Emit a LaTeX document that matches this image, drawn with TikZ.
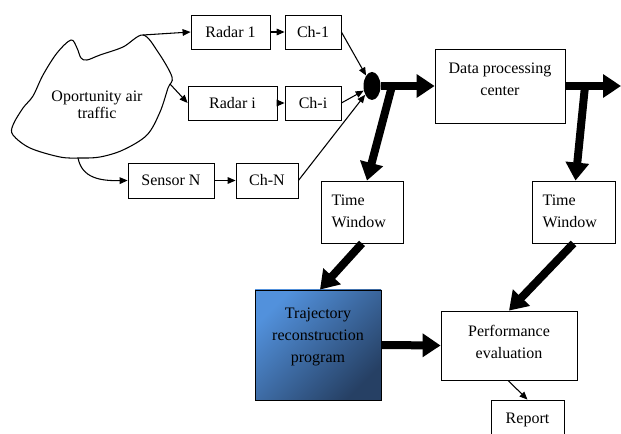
\documentclass[tikz,border=0pt]{standalone}
\usepackage{fontspec}
\setmainfont{Liberation Serif}
\usetikzlibrary{positioning,arrows.meta,shapes.geometric}
\definecolor{trajlight}{RGB}{82,145,220}
\definecolor{trajdark}{RGB}{38,64,100}

\begin{document}
\begin{tikzpicture}[x=0.75pt,y=-0.75pt,
font=\fontsize{12}{16.5}\selectfont,
box/.style={draw,rectangle,inner sep=0pt,line width=0.6pt},
lbl/.style={anchor=north,align=center,inner sep=0pt,yshift=-10.5pt},
lblleft/.style={anchor=north west,align=left,inner sep=0pt,xshift=8pt,yshift=-10.5pt},
link/.style={-{Triangle[length=6pt,width=5pt]},line width=0.8pt},
bigflow/.style={-{Triangle[length=13.5pt,width=17pt]},line width=6pt}]
\useasboundingbox (0,0) rectangle (621,434);

% air traffic cloud
\draw[line width=0.8pt] plot[smooth cycle,tension=0.55] coordinates {
(71,40) (77,48) (81,58) (87,60) (100,55) (123,47) (143,35) (158,52) (172,77) (168,88)
(160,112) (147,135) (123,150) (100,157) (80,158) (60,157) (30,148)
(13,135) (13,125) (23,108) (33,96) (43,75) (57,53)};
\node (traffic) [font=\fontsize{12}{13}\selectfont,align=center] at (97,105) {Oportunity air\\traffic};
\coordinate (cloudne) at (143,35);
\coordinate (cloude) at (170,84);
\coordinate (clouds) at (78,158);

% sensors and channels
\node (radar1) [box,minimum width=59.25pt,minimum height=25.5pt] at (230.5,32) {Radar 1};
\node (ch1) [box,minimum width=42pt,minimum height=25.5pt] at (313,32) {Ch-1};
\node (radari) [box,minimum width=66.75pt,minimum height=25.5pt] at (232.5,103) {Radar i};
\node (chi) [box,minimum width=42pt,minimum height=25.5pt] at (313,103) {Ch-i};
\node (sensorN) [box,minimum width=64.5pt,minimum height=26.25pt] at (171,180.5) {Sensor N};
\node (chN) [box,minimum width=46.5pt,minimum height=26.25pt] at (267,180.5) {Ch-N};
\node (dot) [ellipse,fill=black,inner sep=0pt,minimum width=12.75pt,minimum height=21pt] at (372,86) {};

% processing
\node (dpc) [box,minimum width=97.5pt,minimum height=55.5pt,
    label={[lbl]north:{Data processing\\center}}] at (500,86) {};
\node (tw1) [box,minimum width=61.5pt,minimum height=46.5pt,
    label={[lblleft]north west:{Time\\Window}}] at (362,212) {};
\node (tw2) [box,minimum width=62.25pt,minimum height=46.5pt,
    label={[lblleft]north west:{Time\\Window}}] at (573.5,212) {};
\node (traj) [box,top color=trajlight,bottom color=trajdark,shading angle=45,
    minimum width=94.5pt,minimum height=82.5pt,
    label={[lbl,yshift=-3pt]north:{Trajectory\\reconstruction\\program}}] at (318,345) {};
\node (pe) [box,minimum width=102pt,minimum height=51.75pt,
    label={[lbl]north:{Performance\\evaluation}}] at (509,345.5) {};
\node (report) [box,minimum width=54.75pt,minimum height=30pt] at (527.5,420) {Report};

\coordinate (split1) at (392,86);
\coordinate (split2) at (585,86);
\coordinate (exit) at (621,86);

% thin connectors
\draw[link] (cloudne) -- (radar1.west);
\draw[link] (cloude) -- (radari.west);
\draw[link] (clouds) .. controls (82,178) and (100,181) .. (sensorN.west);
\draw[link] (radar1) -- (ch1);
\draw[link] (radari) -- (chi);
\draw[link] (sensorN) -- (chN);
\draw[link] (ch1.east) -- (dot);
\draw[link] (chi.east) -- (dot);
\draw[link] (chN.east) -- (dot);
\draw[link] ([xshift=-0.75pt]pe.south) -- (report.north);

% data flow
\draw[bigflow] (dot) -- (dpc.west);
\draw[bigflow] (dpc.east) -- (exit);
\draw[bigflow] (split1) -- ([xshift=3.75pt]tw1.north);
\draw[bigflow] (split2) -- ([xshift=1.5pt]tw2.north);
\draw[bigflow] (tw1.south) -- ([xshift=1.5pt]traj.north);
\draw[bigflow] (tw2.south) -- (pe.north);
\draw[bigflow] (traj.east) -- (pe.west);
\end{tikzpicture}
\end{document}
